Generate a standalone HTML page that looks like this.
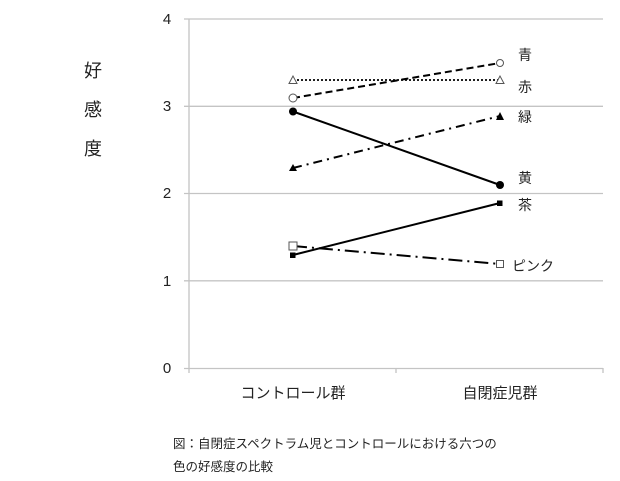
<!DOCTYPE html>
<html><head><meta charset="utf-8">
<style>
html,body{margin:0;padding:0;background:#fff;}
body{width:620px;height:481px;overflow:hidden;}
svg{display:block;}
text{font-family:"Liberation Sans","Noto Sans CJK JP",sans-serif;fill:#222;}
</style></head>
<body>
<svg width="620" height="481" viewBox="0 0 620 481" xmlns="http://www.w3.org/2000/svg">
  <!-- gridlines -->
  <g stroke="#c4c4c4" stroke-width="1.3">
    <line x1="184" y1="19" x2="603" y2="19"/>
    <line x1="184" y1="106.3" x2="603" y2="106.3"/>
    <line x1="184" y1="193.5" x2="603" y2="193.5"/>
    <line x1="184" y1="280.8" x2="603" y2="280.8"/>
    <line x1="184" y1="368.5" x2="603" y2="368.5"/>
    <line x1="189" y1="19" x2="189" y2="373"/>
    <line x1="396" y1="368" x2="396" y2="373"/>
    <line x1="603" y1="368" x2="603" y2="373"/>
  </g>
  <!-- y tick labels -->
  <g font-size="15" text-anchor="middle">
    <text x="167" y="24">4</text>
    <text x="167" y="111">3</text>
    <text x="167" y="198">2</text>
    <text x="167" y="286">1</text>
    <text x="167" y="373">0</text>
  </g>
  <!-- y title -->
  <g font-size="18" text-anchor="middle">
    <text x="93" y="77">好</text>
    <text x="93" y="116">感</text>
    <text x="93" y="155">度</text>
  </g>
  <!-- x labels -->
  <g font-size="15" text-anchor="middle">
    <text x="293" y="398">コントロール群</text>
    <text x="500" y="398">自閉症児群</text>
  </g>
  <!-- series -->
  <g stroke="#000" fill="none" stroke-width="2">
    <line x1="293" y1="80" x2="500" y2="80" stroke-width="1.8" stroke-dasharray="2,2"/>
    <line x1="293" y1="98" x2="500" y2="63" stroke-dasharray="7,4"/>
    <line x1="293" y1="168" x2="500" y2="116" stroke-dasharray="9,5,2,5"/>
    <line x1="293" y1="111.5" x2="500" y2="185"/>
    <line x1="293" y1="255" x2="500" y2="203"/>
    <line x1="293" y1="246" x2="500" y2="264" stroke-dasharray="14,5,2,5"/>
  </g>
  <!-- markers -->
  <g stroke="#555" stroke-width="1" fill="#fff">
    <polygon points="293,76 289,83.5 297,83.5"/>
    <polygon points="500,76 496,83.5 504,83.5"/>
    <circle cx="293" cy="98" r="4"/>
    <circle cx="500" cy="63" r="3.5"/>
    <rect x="289" y="242" width="8" height="8"/>
    <rect x="496.5" y="260.5" width="7" height="7"/>
  </g>
  <g fill="#000">
    <circle cx="293" cy="111.5" r="4"/>
    <circle cx="500" cy="185" r="4"/>
    <polygon points="293,164 289,171 297,171"/>
    <polygon points="500,112 496,120 504,120"/>
    <rect x="290" y="252.5" width="5.5" height="5.5"/>
    <rect x="497" y="200.5" width="5.5" height="5.5"/>
  </g>
  <!-- series labels -->
  <g font-size="14">
    <text x="518" y="60">青</text>
    <text x="518" y="92">赤</text>
    <text x="518" y="122">緑</text>
    <text x="518" y="183">黄</text>
    <text x="518" y="210">茶</text>
    <text x="512" y="271">ピンク</text>
  </g>
  <!-- caption -->
  <g font-size="12.5" fill="#333">
    <text x="173" y="448">図：自閉症スペクトラム児とコントロールにおける六つの</text>
    <text x="173" y="471">色の好感度の比較</text>
  </g>
</svg>
</body></html>
